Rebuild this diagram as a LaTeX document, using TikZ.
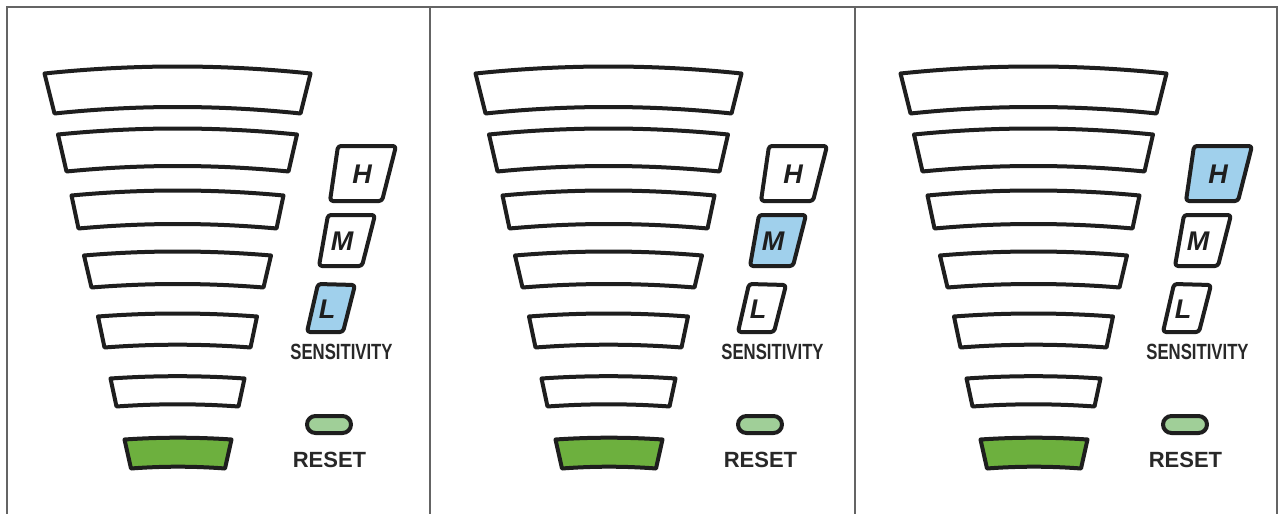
\documentclass[tikz,border=0pt]{standalone}
\usepackage{fontspec}
\setmainfont{Liberation Sans}
\usepackage{graphicx}
\definecolor{framec}{RGB}{100,100,100}
\definecolor{ink}{RGB}{30,30,30}
\definecolor{sblue}{RGB}{160,208,236}
\definecolor{lgreen}{RGB}{109,176,62}
\definecolor{pgreen}{RGB}{160,207,152}
\definecolor{txt}{RGB}{40,40,40}
\tikzset{
  outl/.style={draw=ink, line width=4pt, line join=round},
  framel/.style={draw=framec, line width=2pt},
  sensbox/.style={outl, rounded corners=3pt},
  letter/.style={font=\fontsize{27}{27}\selectfont\bfseries\itshape, text=ink, inner sep=0pt},
  lbl/.style={font=\fontsize{22}{22}\selectfont\bfseries, text=txt, inner sep=0pt},
}
% #1 cx, #2 top y, #3 top sag, #4 top half width, #5 bottom y, #6 bottom sag, #7 bottom half width, #8 style
\newcommand\ladbar[8]{%
  \draw[#8] ({#1-#4},{#2}) .. controls ({#1-#4/3},{#2-4*#3/3}) and ({#1+#4/3},{#2-4*#3/3}) .. ({#1+#4},{#2})
    -- ({#1+#7},{#5}) .. controls ({#1+#7/3},{#5-4*#6/3}) and ({#1-#7/3},{#5-4*#6/3}) .. ({#1-#7},{#5}) -- cycle;}
\begin{document}
\begin{tikzpicture}[x=1pt,y=-1pt]
\useasboundingbox (0,0) rectangle (1280,514);
\fill[white] (0,0) rectangle (1280,514);
% frame
\draw[framel] (7,514) -- (7,7) -- (1277,7) -- (1277,514);
\draw[framel] (430,7) -- (430,514);
\draw[framel] (855,7) -- (855,514);
\foreach \p/\dx/\hc/\mc/\lc in {1/0/white/white/sblue, 2/431/white/sblue/white, 3/856/sblue/white/white}{
  \begin{scope}[xshift=\dx pt]
    % level bars
    \ladbar{177.5}{73.5}{7}{133}{113.5}{6.5}{123}{outl, fill=white}
    \ladbar{177.5}{134.5}{6}{119.5}{171.5}{5.5}{111}{outl, fill=white}
    \ladbar{177.5}{195.5}{5}{106}{228.5}{4.5}{99}{outl, fill=white}
    \ladbar{177.5}{255.5}{4}{93.5}{287.5}{3.5}{86}{outl, fill=white}
    \ladbar{177.5}{316.5}{3}{79.5}{347.5}{2.8}{73}{outl, fill=white}
    \ladbar{177.5}{378.5}{2.3}{67}{406.5}{2.2}{61}{outl, fill=white}
    \ladbar{178}{439.5}{1.8}{53.5}{468.5}{1.8}{47}{outl, fill=lgreen}
    % sensitivity buttons
    \draw[sensbox, fill=\hc] (338,146) -- (396,146) -- (382,201) -- (330,201) -- cycle;
    \draw[sensbox, fill=\mc] (328,215) -- (375,215) -- (362,266) -- (319,266) -- cycle;
    \draw[sensbox, fill=\lc] (318,284) -- (355,285) -- (343,332) -- (307,332) -- cycle;
    \node[letter] (H\p) at (362,174) {H};
    \node[letter] (M\p) at (342,241) {M};
    \node[letter] (L\p) at (327,309) {L};
    \node[lbl] (sens\p) at (341.5,352) {\scalebox{0.76}[1]{SENSITIVITY}};
    % reset
    \draw[outl, fill=pgreen, rounded corners=8.5pt] (307,416) rectangle (351,433);
    \node[lbl] (reset\p) at (329.5,460) {RESET};
  \end{scope}
}
\end{tikzpicture}
\end{document}
